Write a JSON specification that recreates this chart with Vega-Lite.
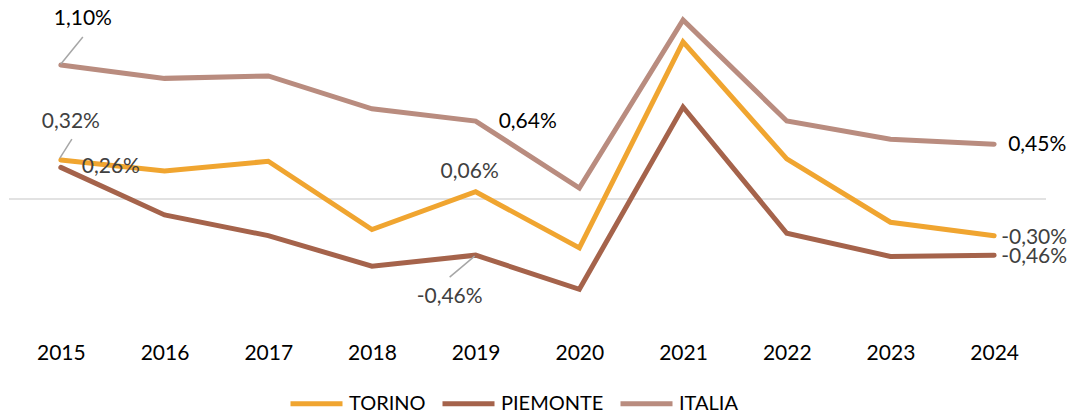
{
  "$schema": "https://vega.github.io/schema/vega-lite/v6.json",
  "width": 1037,
  "height": 317,
  "autosize": {"type": "none"},
  "padding": {"left": 9, "top": 4, "right": 24, "bottom": 93},
  "background": "white",
  "config": {
    "font": "Lato",
    "view": {"stroke": null}
  },
  "data": {
    "values": [
      {"year": "2015", "series": "TORINO", "value": 0.32, "label": "0,32%"},
      {"year": "2016", "series": "TORINO", "value": 0.23},
      {"year": "2017", "series": "TORINO", "value": 0.31},
      {"year": "2018", "series": "TORINO", "value": -0.25},
      {"year": "2019", "series": "TORINO", "value": 0.06, "label": "0,06%"},
      {"year": "2020", "series": "TORINO", "value": -0.40},
      {"year": "2021", "series": "TORINO", "value": 1.29},
      {"year": "2022", "series": "TORINO", "value": 0.33},
      {"year": "2023", "series": "TORINO", "value": -0.19},
      {"year": "2024", "series": "TORINO", "value": -0.30, "label": "-0,30%"},
      {"year": "2015", "series": "PIEMONTE", "value": 0.26, "label": "0,26%"},
      {"year": "2016", "series": "PIEMONTE", "value": -0.13},
      {"year": "2017", "series": "PIEMONTE", "value": -0.30},
      {"year": "2018", "series": "PIEMONTE", "value": -0.55},
      {"year": "2019", "series": "PIEMONTE", "value": -0.46, "label": "-0,46%"},
      {"year": "2020", "series": "PIEMONTE", "value": -0.74},
      {"year": "2021", "series": "PIEMONTE", "value": 0.755},
      {"year": "2022", "series": "PIEMONTE", "value": -0.28},
      {"year": "2023", "series": "PIEMONTE", "value": -0.47},
      {"year": "2024", "series": "PIEMONTE", "value": -0.46, "label": "-0,46%"},
      {"year": "2015", "series": "ITALIA", "value": 1.10, "label": "1,10%"},
      {"year": "2016", "series": "ITALIA", "value": 0.99},
      {"year": "2017", "series": "ITALIA", "value": 1.01},
      {"year": "2018", "series": "ITALIA", "value": 0.74},
      {"year": "2019", "series": "ITALIA", "value": 0.64, "label": "0,64%"},
      {"year": "2020", "series": "ITALIA", "value": 0.09},
      {"year": "2021", "series": "ITALIA", "value": 1.47},
      {"year": "2022", "series": "ITALIA", "value": 0.64},
      {"year": "2023", "series": "ITALIA", "value": 0.49},
      {"year": "2024", "series": "ITALIA", "value": 0.45, "label": "0,45%"}
    ]
  },
  "encoding": {
    "x": {
      "field": "year",
      "type": "ordinal",
      "scale": {"type": "point", "padding": 0.5},
      "axis": {
        "title": null,
        "labelAngle": 0,
        "domain": false,
        "ticks": false,
        "grid": false,
        "labelFontSize": 21,
        "labelColor": "#000000",
        "labelPadding": 21
      }
    },
    "y": {
      "field": "value",
      "type": "quantitative",
      "scale": {"domain": [-1, 1.6], "nice": false, "zero": false},
      "axis": null
    }
  },
  "layer": [
    {
      "data": {"values": [{"v": 0}]},
      "mark": {"type": "rule", "color": "#D9D9D9", "strokeWidth": 1.5},
      "encoding": {"x": null, "y": {"field": "v", "type": "quantitative"}}
    },
    {
      "mark": {"type": "line", "strokeWidth": 5, "strokeCap": "round"},
      "encoding": {
        "color": {
          "field": "series",
          "type": "nominal",
          "sort": ["TORINO", "PIEMONTE", "ITALIA"],
          "scale": {"domain": ["TORINO", "PIEMONTE", "ITALIA"], "range": ["#F0A530", "#A5634B", "#B98C7F"]},
          "legend": {
            "title": null,
            "orient": "none",
            "direction": "horizontal",
            "legendX": 279,
            "legendY": 371,
            "padding": 0,
            "symbolType": "stroke",
            "symbolSize": 2704,
            "symbolStrokeWidth": 5,
            "labelFontSize": 20,
            "labelColor": "#000000",
            "labelOffset": 4,
            "columnPadding": 6
          }
        }
      }
    },
    {
      "transform": [{"filter": "datum.series === 'ITALIA' && datum.year === '2015'"}],
      "mark": {"type": "rule", "color": "#A6A6A6", "strokeWidth": 1.5, "yOffset": -1, "x2Offset": 22, "y2Offset": -28},
      "encoding": {"x2": {"field": "year"}, "y2": {"field": "value"}}
    },
    {
      "transform": [{"filter": "datum.series === 'TORINO' && datum.year === '2015'"}],
      "mark": {"type": "rule", "color": "#A6A6A6", "strokeWidth": 1.5, "xOffset": -1, "yOffset": -2, "x2Offset": 11, "y2Offset": -21},
      "encoding": {"x2": {"field": "year"}, "y2": {"field": "value"}}
    },
    {
      "transform": [{"filter": "datum.series === 'PIEMONTE' && datum.year === '2019'"}],
      "mark": {"type": "rule", "color": "#A6A6A6", "strokeWidth": 1.5, "xOffset": -1, "yOffset": 1, "x2Offset": -26, "y2Offset": 22},
      "encoding": {"x2": {"field": "year"}, "y2": {"field": "value"}}
    },
    {
      "transform": [{"filter": "datum.series === 'ITALIA' && datum.year === '2015'"}],
      "mark": {"type": "text", "fontSize": 21, "color": "#000000", "dx": 22, "dy": -46},
      "encoding": {"text": {"field": "label"}}
    },
    {
      "transform": [{"filter": "datum.series === 'TORINO' && datum.year === '2015'"}],
      "mark": {"type": "text", "fontSize": 21, "color": "#404040", "dx": 10, "dy": -38},
      "encoding": {"text": {"field": "label"}}
    },
    {
      "transform": [{"filter": "datum.series === 'PIEMONTE' && datum.year === '2015'"}],
      "mark": {"type": "text", "fontSize": 21, "color": "#404040", "dx": 50, "dy": 0},
      "encoding": {"text": {"field": "label"}}
    },
    {
      "transform": [{"filter": "datum.series === 'TORINO' && datum.year === '2019'"}],
      "mark": {"type": "text", "fontSize": 21, "color": "#404040", "dx": -6, "dy": -20},
      "encoding": {"text": {"field": "label"}}
    },
    {
      "transform": [{"filter": "datum.series === 'ITALIA' && datum.year === '2019'"}],
      "mark": {"type": "text", "fontSize": 21, "color": "#000000", "align": "left", "dx": 23, "dy": 1},
      "encoding": {"text": {"field": "label"}}
    },
    {
      "transform": [{"filter": "datum.series === 'PIEMONTE' && datum.year === '2019'"}],
      "mark": {"type": "text", "fontSize": 21, "color": "#404040", "dx": -26, "dy": 42},
      "encoding": {"text": {"field": "label"}}
    },
    {
      "transform": [{"filter": "datum.series === 'ITALIA' && datum.year === '2024'"}],
      "mark": {"type": "text", "fontSize": 21, "color": "#000000", "align": "left", "dx": 14, "dy": 1},
      "encoding": {"text": {"field": "label"}}
    },
    {
      "transform": [{"filter": "datum.series !== 'ITALIA' && datum.year === '2024'"}],
      "mark": {"type": "text", "fontSize": 21, "color": "#404040", "align": "left", "dx": 7, "dy": 2},
      "encoding": {"text": {"field": "label"}}
    }
  ]
}
